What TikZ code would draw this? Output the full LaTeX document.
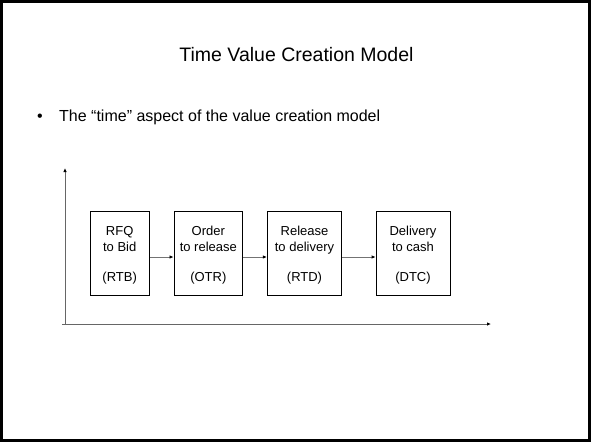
\documentclass[tikz,border=0pt]{standalone}
\usepackage{fontspec}
\setmainfont{Liberation Sans}
\usetikzlibrary{arrows.meta}
\begin{document}
\begin{tikzpicture}[x=1pt,y=-1pt,
  stagebox/.style={draw=black,line width=0.8pt,minimum width=#1,minimum height=84pt,
    inner sep=0pt,align=center,text depth=0pt,
    font=\fontsize{13}{16}\selectfont},
  flow/.style={draw=black!55,line width=0.8pt,-{Latex[length=4pt,width=3.5pt,black]}},
  axis/.style={draw=black!60,line width=0.8pt,-{Latex[length=4pt,width=3.5pt,black]}}]
\useasboundingbox (0,0) rectangle (591,442);
\draw[line width=3pt] (1.5,1.5) rectangle (589.5,440.5);
\node[anchor=base,font=\fontsize{19.5}{23}\selectfont] (title) at (296.5,61) {Time Value Creation Model};
\node[anchor=base,font=\fontsize{16}{19}\selectfont] (bul) at (40,121) {\textbullet};
\node[anchor=base west,inner sep=0pt,font=\fontsize{16}{19}\selectfont] (txt) at (59,121) {The “time” aspect of the value creation model};
\coordinate (o) at (65,324);
\coordinate (ytop) at (65,168);
\coordinate (xl) at (62,324);
\coordinate (xr) at (491,324);
\draw[axis] (o) -- (ytop);
\draw[axis] (xl) -- (xr);
\node[stagebox=59.5pt] (rtb) at (119.7,253.7) {RFQ\\to Bid\\[14pt](RTB)};
\node[stagebox=68.7pt] (otr) at (208.3,253.7) {Order\\to release\\[14pt](OTR)};
\node[stagebox=74.4pt] (rtd) at (304.5,253.7) {Release\\to delivery\\[14pt](RTD)};
\node[stagebox=74pt] (dtc) at (413,253.7) {Delivery\\to cash\\[14pt](DTC)};
\draw[flow] (rtb.east |- 0,257) -- (otr.west |- 0,257);
\draw[flow] (otr.east |- 0,257) -- (rtd.west |- 0,257);
\draw[flow] (rtd.east |- 0,257) -- (dtc.west |- 0,257);
\end{tikzpicture}
\end{document}
